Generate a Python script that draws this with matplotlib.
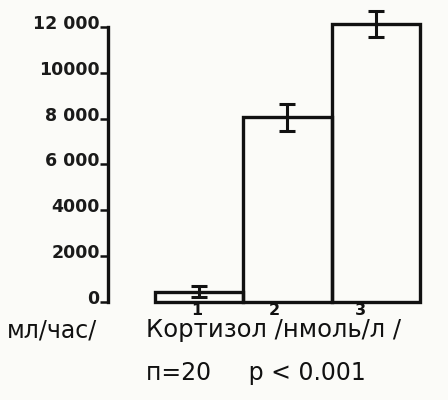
import matplotlib
matplotlib.use("Agg")
import matplotlib.pyplot as plt
import matplotlib.transforms as mtransforms

categories = ["1", "2", "3"]
values = [450, 8050, 12130]
errors = [250, 600, 580]
ytick_values = [0, 2000, 4000, 6000, 8000, 10000, 12000]
ytick_labels = ["0", "2000", "4000", "6 000", "8 000", "10000", "12 000"]

W, H = 448, 400
fig = plt.figure(figsize=(W / 100, H / 100), dpi=100)
fig.patch.set_facecolor("#fbfbf8")

ax_left, ax_right = 108, 426
ax_bottom, ax_top = 302, 4
ax = fig.add_axes([ax_left / W, 1 - ax_bottom / H, (ax_right - ax_left) / W, (ax_bottom - ax_top) / H])
ax.set_facecolor("none")

x = [1, 2, 3]
ax.bar(x, values, width=1.0, facecolor="none", edgecolor="#111111", linewidth=2.4,
       clip_on=False, zorder=2)
ax.errorbar(x, values, yerr=errors, fmt="none", ecolor="#111111", elinewidth=2.2,
            capsize=6, capthick=2.2, clip_on=False, zorder=3)

ax.set_xlim(-0.032, 3.568)
ax.set_ylim(0, 13000)

for s in ["top", "right", "bottom"]:
    ax.spines[s].set_visible(False)
ax.spines["left"].set_bounds(0, 12000)
ax.spines["left"].set_linewidth(2.4)
ax.spines["left"].set_color("#111111")

ax.set_yticks(ytick_values)
ax.set_yticklabels(ytick_labels, fontsize=12.5, fontweight="semibold", color="#1a1a1a")
ax.tick_params(axis="y", length=6, width=1.8, pad=0, color="#111111")
offset = mtransforms.ScaledTranslation(0, 5 / 100, fig.dpi_scale_trans)
for lbl in ax.get_yticklabels():
    lbl.set_transform(lbl.get_transform() + offset)

ax.set_xticks(x)
ax.set_xticklabels(categories, fontsize=11.5, fontweight="semibold", color="#111111")
ax.tick_params(axis="x", length=0, pad=1)
for lbl, dx in zip(ax.get_xticklabels(), [-2, -13, -15]):
    lbl.set_transform(lbl.get_transform() + mtransforms.ScaledTranslation(dx / 100, 0, fig.dpi_scale_trans))

fig.text(97 / W, 1 - 330 / H, "мл/час/", ha="right", va="center", fontsize=17, color="#111111")
fig.text(146 / W, 1 - 330 / H, "Кортизол /нмоль/л /", ha="left", va="center", fontsize=17.5,
         color="#111111")
fig.text(146 / W, 1 - 373 / H, "п=20     p < 0.001", ha="left", va="center", fontsize=17,
         color="#111111")

fig.savefig("out.png", dpi=100, facecolor=fig.get_facecolor())
